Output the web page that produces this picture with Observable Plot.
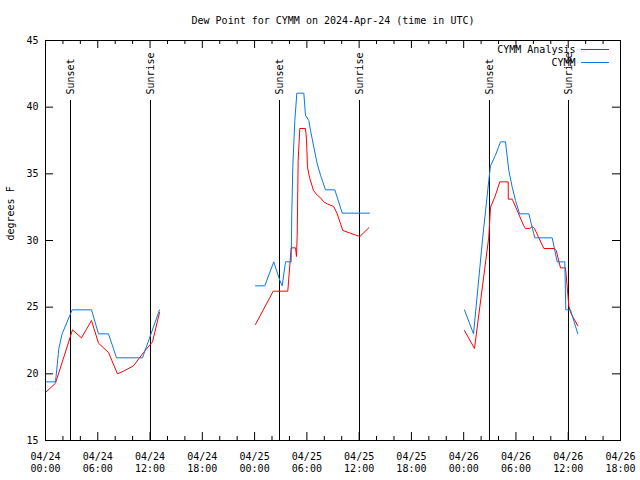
<!DOCTYPE html>
<html><head><meta charset="utf-8">
<script src="https://cdn.jsdelivr.net/npm/d3@7"></script>
<script src="https://cdn.jsdelivr.net/npm/@observablehq/plot@0.6"></script>
<style>body{margin:0;background:#fff} svg{display:block}</style>
</head><body><div id="chart"></div>
<script>
const title = "Dew Point for CYMM on 2024-Apr-24 (time in UTC)";
const yLabel = "degrees F";
const startISO = "2024-04-24T00:00:00Z";
const endISO = "2024-04-26T18:00:00Z";
const seriesNames = ["CYMM Analysis", "CYMM"];
const seriesColors = ["#ff0000", "#0a78e6"];
const yTicks = [15, 20, 25, 30, 35, 40, 45];

// hours after 04/24 00:00 UTC (null = gap)
const analysisHours = [0, 1.15, 3.1, 4.13, 5.28, 6.08, 7.23, 8.26, 8.95, 10.1, 11.25, 12.28, 13.09, null,
  24.1, 26.14, 27.81, 28.2, 28.7, 28.81, 28.89, 29.0, 29.19, 29.84, 29.96, 30.07, 30.3, 30.76, 31.19, 31.57, 31.94, 32.33, 33.09, 33.48, 34.13, 35.2, 36.08, 37.11, null,
  48.09, 49.24, 50.88, 51.08, 51.57, 52.15, 53.11, 53.12, 53.57, 54.14, 54.9, 55.1, 55.59, 55.86, 56.13, 57.2, 58.42, 58.62, 59.11, 59.69, 60.07, 60.26, 61.1];
const analysisDewpoint = [18.6, 19.3, 23.3, 22.7, 24.0, 22.3, 21.6, 20.0, 20.2, 20.6, 21.6, 22.4, 24.6, null,
  23.7, 26.2, 26.2, 29.45, 29.45, 28.8, 30.4, 36.0, 38.4, 38.4, 37.6, 35.5, 34.75, 33.75, 33.4, 33.2, 32.9, 32.75, 32.55, 32.0, 30.75, 30.5, 30.3, 30.95, null,
  23.25, 21.9, 30.25, 32.5, 33.25, 34.4, 34.4, 33.1, 33.1, 32.25, 31.1, 30.9, 30.9, 31.05, 30.9, 29.4, 29.4, 29.25, 27.95, 27.95, 25.1, 24.6, 23.6];

const obsHours = [0, 1.15, 1.53, 1.91, 3.06, 5.28, 6.08, 7.23, 8.15, 11.13, 13.09, null,
  24.1, 25.17, 26.2, 26.9, 27.17, 27.55, 28.2, 28.27, 28.39, 28.62, 28.85, 29.65, 29.84, 30.22, 30.42, 30.8, 31.19, 31.57, 32.14, 33.21, 34.06, 37.19, null,
  48.09, 49.13, 50.19, 50.88, 51.08, 51.65, 52.23, 52.8, 53.18, 53.57, 53.95, 54.41, 55.48, 56.16, 58.16, 58.73, 59.61, 59.72, 60.26, 61.1];
const obsDewpoint = [19.4, 19.4, 21.9, 23.0, 24.8, 24.8, 23.0, 23.0, 21.2, 21.2, 24.8, null,
  26.6, 26.6, 28.4, 27.0, 26.6, 28.4, 28.4, 32.0, 35.6, 39.0, 41.05, 41.05, 39.4, 39.0, 38.25, 37.0, 35.75, 34.9, 33.8, 33.8, 32.05, 32.05, null,
  24.8, 23.0, 30.25, 34.5, 35.6, 36.4, 37.4, 37.4, 35.25, 34.0, 33.0, 32.0, 32.0, 30.2, 30.2, 28.4, 28.4, 24.8, 24.8, 23.0];

const sunHours = [2.87, 12.05, 26.86, 36.04, 50.96, 60.03];
const sunLabels = ["Sunset", "Sunrise", "Sunset", "Sunrise", "Sunset", "Sunrise"];
const sunLineTop = 40.5;

const t0 = new Date(startISO), t1 = new Date(endISO);
const toDate = h => new Date(+t0 + h * 3600e3);
const rows = (hs, vs) => hs.map((h, i) => h == null ? {t: toDate(0), v: NaN} : {t: toDate(h), v: vs[i]});
const analysis = rows(analysisHours, analysisDewpoint);
const obs = rows(obsHours, obsDewpoint);
const sun = sunHours.map((h, i) => ({t: toDate(h), label: sunLabels[i]}));

const majorTicks = d3.utcHour.every(6).range(t0, d3.utcHour.offset(t1, 1));
const minorTicks = d3.utcHour.every(2).range(t0, d3.utcHour.offset(t1, 1)).filter(d => d.getUTCHours() % 6 !== 0);

const W = 640, H = 480, mL = 45, mR = 20, mT = 40, mB = 40;
const pw = W - mL - mR, ph = H - mT - mB;
const fmt = d => d3.utcFormat("%m/%d")(d) + "\n" + d3.utcFormat("%H:%M")(d);

const chart = Plot.plot({
  width: W, height: H, marginLeft: mL, marginRight: mR, marginTop: mT, marginBottom: mB,
  style: {fontFamily: "DejaVu Sans Mono", fontSize: "10px", background: "#fff", color: "#000"},
  x: {type: "utc", domain: [t0, t1]},
  y: {domain: [15, 45]},
  marks: [
    Plot.axisX(majorTicks, {tickSize: 0, tickPadding: 11, tickFormat: fmt, lineHeight: 1.2, label: null, fill: "#000"}),
    Plot.axisY(yTicks, {tickSize: 0, tickPadding: 7, label: null, fill: "#000"}),
    Plot.tickX(majorTicks, {x: d => d, insetTop: ph - 8, stroke: "#000"}),
    Plot.tickX(majorTicks, {x: d => d, insetBottom: ph - 8, stroke: "#000"}),
    Plot.tickX(minorTicks, {x: d => d, insetTop: ph - 4, stroke: "#000"}),
    Plot.tickX(minorTicks, {x: d => d, insetBottom: ph - 4, stroke: "#000"}),
    Plot.tickY(yTicks, {y: d => d, insetRight: pw - 8, stroke: "#000"}),
    Plot.tickY(yTicks, {y: d => d, insetLeft: pw - 8, stroke: "#000"}),
    Plot.ruleX(sun, {x: "t", y1: () => 15, y2: () => sunLineTop, stroke: "#000"}),
    Plot.text(sun, {x: "t", y: () => sunLineTop, text: "label", rotate: -90, textAnchor: "start", lineAnchor: "middle", dy: -6, fill: "#000"}),
    Plot.line(analysis, {x: "t", y: "v", stroke: seriesColors[0], strokeWidth: 1}),
    Plot.line(obs, {x: "t", y: "v", stroke: seriesColors[1], strokeWidth: 1}),
    Plot.frame({stroke: "#000"}),
    Plot.text([title], {frameAnchor: "top", dy: -20, lineAnchor: "middle", fill: "#000"}),
    Plot.text([yLabel], {frameAnchor: "left", dx: -35, rotate: -90, lineAnchor: "middle", fill: "#000"}),
    Plot.text([seriesNames[0]], {frameAnchor: "top-right", dx: -45, dy: 9, textAnchor: "end", lineAnchor: "middle", fill: "#000"}),
    Plot.text([seriesNames[1]], {frameAnchor: "top-right", dx: -45, dy: 22, textAnchor: "end", lineAnchor: "middle", fill: "#000"})
  ]
});
const svg = d3.select(chart);
seriesColors.forEach((c, i) => {
  svg.append("line").attr("x1", W - mR - 39).attr("x2", W - mR - 11)
    .attr("y1", mT + 9 + 13 * i + 0.5).attr("y2", mT + 9 + 13 * i + 0.5)
    .attr("stroke", c).attr("stroke-width", 1);
});
document.getElementById("chart").appendChild(chart);
</script>
</body></html>
